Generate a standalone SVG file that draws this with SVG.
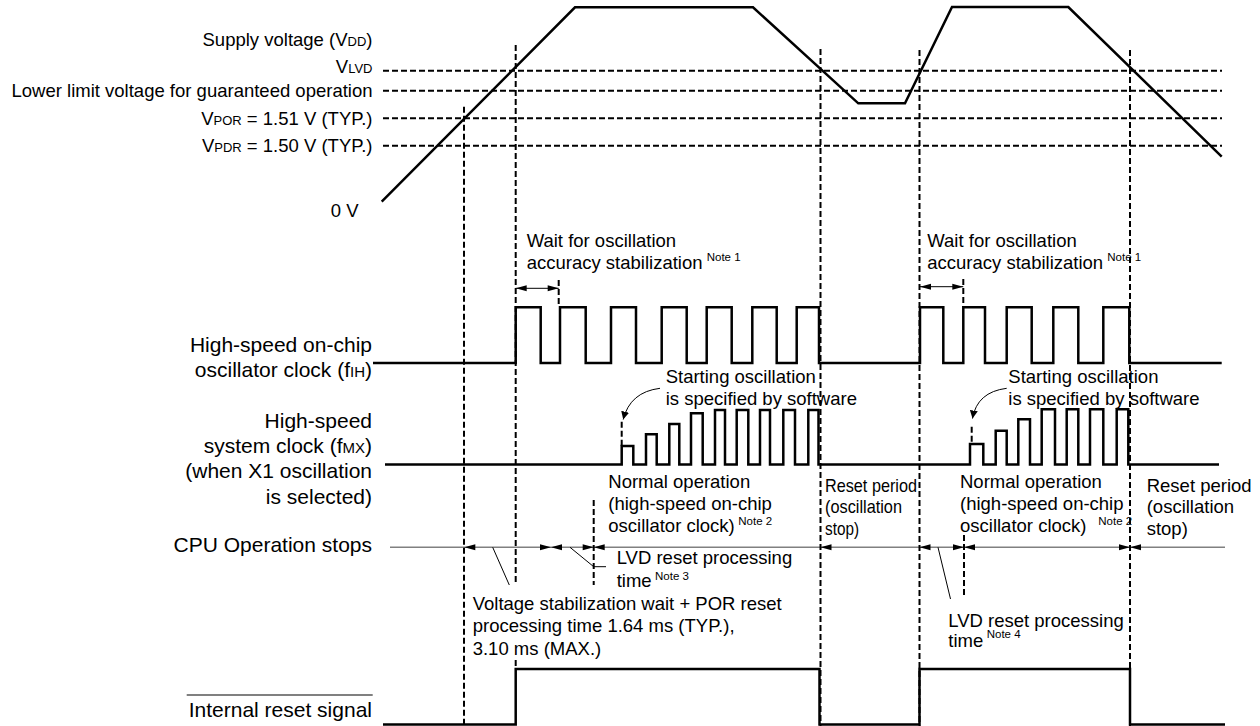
<svg xmlns="http://www.w3.org/2000/svg" xmlns:xlink="http://www.w3.org/1999/xlink" width="1260" height="726" viewBox="0 0 1260 726">
<style>
text{font-family:"Liberation Sans",Arial,sans-serif;fill:#000}
.v{font-size:18.5px}
.s{font-size:21px}
.n{font-size:11.5px}
.sub{font-size:13px}
.ssub{font-size:15px}
.end{text-anchor:end}
.wave{fill:none;stroke:#000;stroke-width:2.5;stroke-linejoin:miter}
.dash{fill:none;stroke:#000;stroke-width:2;stroke-dasharray:6 3}
.thin{fill:none;stroke:#000;stroke-width:1}
.gray{fill:none;stroke:#808080;stroke-width:1.5}
</style>
<defs>
<path id="ahL" d="M0,0 L11,-3 L11,3 Z" fill="#000"/>
<path id="ahR" d="M0,0 L-11,-3 L-11,3 Z" fill="#000"/>
<marker id="curveHead" markerWidth="10" markerHeight="8" refX="8" refY="4" orient="auto" markerUnits="userSpaceOnUse">
<path d="M0,0 L8,4 L0,8 Z" fill="#000"/>
</marker>
</defs>
<rect width="1260" height="726" fill="#fff"/>

<g id="voltage-labels">
<text class="v end" x="372.5" y="46">Supply voltage (V<tspan class="sub">DD</tspan>)</text>
<text class="v end" x="372.5" y="73">V<tspan class="sub">LVD</tspan></text>
<text class="v end" x="372.5" y="97">Lower limit voltage for guaranteed operation</text>
<text class="v end" x="372.5" y="124.5">V<tspan class="sub">POR</tspan> = 1.51 V (TYP.)</text>
<text class="v end" x="372.5" y="151.7">V<tspan class="sub">PDR</tspan> = 1.50 V (TYP.)</text>
<text class="v end" x="358.5" y="216.7">0 V</text>
</g>

<g id="signal-labels">
<text class="s end" x="372" y="351.7">High-speed on-chip</text>
<text class="s end" x="372" y="376.7">oscillator clock (f<tspan class="ssub">IH</tspan>)</text>
<text class="s end" x="372" y="428.3">High-speed</text>
<text class="s end" x="372" y="453.3">system clock (f<tspan class="ssub">MX</tspan>)</text>
<text class="s end" x="372" y="478.3">(when X1 oscillation</text>
<text class="s end" x="372" y="504.3">is selected)</text>
<text class="s end" x="372" y="551.7">CPU Operation stops</text>
<text class="s end" x="372" y="716.7">Internal reset signal</text>
<line x1="186.7" y1="695" x2="372.7" y2="695" stroke="#808080" stroke-width="2"/>
</g>

<g id="level-lines">
<line class="dash" x1="383" y1="70.7" x2="1222" y2="70.7"/>
<line class="dash" x1="383" y1="90.7" x2="1222" y2="90.7"/>
<line class="dash" x1="383" y1="118.3" x2="1222" y2="118.3"/>
<line class="dash" x1="383" y1="145.7" x2="1222" y2="145.7"/>
</g>

<g id="vdd">
<path class="wave" d="M381.7,201.7 L575,7.3 H753 L858.3,103.3 H905 L952,7 H1068.3 L1221.7,156.7"/>
</g>

<g id="fih">
<path class="wave" d="M373,363 H515.7 V307.3 H540.7 V363 H560 V307.3 H585.7 V363 H611 V307.3 H636 V363 H661.7 V307.3 H686.7 V363 H706.7 V307.3 H731.7 V363 H752.3 V307.3 H776.7 V363 H796.7 V307.3 H819 V363 H920 V307.3 H943.3 V363 H963.3 V307.3 H985 V363 H1006.7 V307.3 H1031.7 V363 H1053.3 V307.3 H1078.3 V363 H1103.3 V307.3 H1129.3 V363 H1221.7"/>
</g>

<g id="fmx">
<path class="wave" d="M385,464.5 H621.7 V446 H633.3 V464.5 H646 V434.3 H656.7 V464.5 H669.3 V424 H679.3 V464.5 H691 V413.3 H702.7 V464.5 H715 V410 H725 V464.5 H736.7 V410 H748.3 V464.5 H760 V410 H770 V464.5 H783.3 V410 H795 V464.5 H808.3 V410 H818.5 V464.5 H970 V444 H983.3 V464.5 H995.7 V430.7 H1006.7 V464.5 H1018.3 V419.3 H1030 V464.5 H1041.7 V409.3 H1055 V464.5 H1066.7 V409.3 H1078.3 V464.5 H1090 V409.3 H1103.3 V464.5 H1116.7 V409.3 H1128.3 V464.5 H1219"/>
</g>

<g id="reset">
<path class="wave" d="M383,724.5 H515.7 V669 H819.5 V724.5 H919.5 V669 H1130 V724.5 H1225"/>
</g>

<g id="cpu">
<line class="gray" x1="390" y1="547.3" x2="1225" y2="547.3"/>
</g>

<g id="annotations-text">
<text class="v" x="526.7" y="246.7">Wait for oscillation</text>
<text class="v" x="526.7" y="269.3">accuracy stabilization</text>
<text class="n" x="706.7" y="261">Note 1</text>
<text class="v" x="927.3" y="246.7">Wait for oscillation</text>
<text class="v" x="927.3" y="269.3">accuracy stabilization</text>
<text class="n" x="1107.3" y="261">Note 1</text>

<text class="v" x="665.7" y="383.3">Starting oscillation</text>
<text class="v" x="665.7" y="405">is specified by software</text>
<text class="v" x="1008.3" y="383.3">Starting oscillation</text>
<text class="v" x="1008.3" y="405">is specified by software</text>

<text class="v" x="608.3" y="488.3">Normal operation</text>
<text class="v" x="608.3" y="510">(high-speed on-chip</text>
<text class="v" x="608.3" y="531.7">oscillator clock)</text>
<text class="n" x="738.3" y="525">Note 2</text>
<text class="v" x="960" y="488.3">Normal operation</text>
<text class="v" x="960" y="510">(high-speed on-chip</text>
<text class="v" x="960" y="531.7">oscillator clock)</text>
<text class="n" x="1098.3" y="525">Note 2</text>

<text class="v" x="825" y="491.7" textLength="92" lengthAdjust="spacingAndGlyphs">Reset period</text>
<text class="v" x="825" y="513.3" textLength="77" lengthAdjust="spacingAndGlyphs">(oscillation</text>
<text class="v" x="825" y="535" textLength="34" lengthAdjust="spacingAndGlyphs">stop)</text>
<text class="v" x="1146.7" y="491.7">Reset period</text>
<text class="v" x="1146.7" y="513.3">(oscillation</text>
<text class="v" x="1146.7" y="535">stop)</text>

<text class="v" x="616.7" y="564.3">LVD reset processing</text>
<text class="v" x="616.7" y="586.7">time</text>
<text class="n" x="655" y="580">Note 3</text>
<text class="v" x="948.3" y="626.7">LVD reset processing</text>
<text class="v" x="948.3" y="646.7">time</text>
<text class="n" x="986.7" y="638.3">Note 4</text>

<text class="v" x="472.7" y="610">Voltage stabilization wait + POR reset</text>
<text class="v" x="472.7" y="632.3">processing time 1.64 ms (TYP.),</text>
<text class="v" x="472.7" y="655">3.10 ms (MAX.)</text>
</g>

<g id="timing-markers">
<line class="dash" x1="464" y1="106.7" x2="464" y2="726"/>
<line class="dash" x1="515.7" y1="45" x2="515.7" y2="585"/>
<line class="dash" x1="515.7" y1="660" x2="515.7" y2="669"/>
<line class="dash" x1="820.5" y1="49" x2="820.5" y2="726"/>
<line class="dash" x1="919.5" y1="50" x2="919.5" y2="726"/>
<line class="dash" x1="1130" y1="50" x2="1130" y2="726"/>
<line class="dash" x1="558.7" y1="280" x2="558.7" y2="307"/>
<line class="dash" x1="963.3" y1="279" x2="963.3" y2="307"/>
<line class="dash" x1="621.7" y1="421.7" x2="621.7" y2="446"/>
<line class="dash" x1="971.7" y1="426.7" x2="971.7" y2="444"/>
<line class="dash" x1="593.7" y1="500" x2="593.7" y2="585"/>
<line class="dash" x1="964" y1="535" x2="964" y2="597"/>
</g>

<g id="connectors">
<line class="thin" x1="515.7" y1="288.3" x2="558.7" y2="288.3"/>
<use xlink:href="#ahL" x="515.7" y="288.3"/>
<use xlink:href="#ahR" x="558.7" y="288.3"/>
<line class="thin" x1="920" y1="286.7" x2="963.3" y2="286.7"/>
<use xlink:href="#ahL" x="920" y="286.7"/>
<use xlink:href="#ahR" x="963.3" y="286.7"/>

<path class="thin" d="M660,388.3 Q630,392 623.2,419.5" marker-end="url(#curveHead)"/>
<path class="thin" d="M1006.7,388.3 Q977,392 972.5,418.5" marker-end="url(#curveHead)"/>

<use xlink:href="#ahL" x="464.3" y="547.3"/>
<use xlink:href="#ahR" x="551" y="547.3"/>
<use xlink:href="#ahL" x="551" y="547.3"/>
<use xlink:href="#ahR" x="593.7" y="547.3"/>
<use xlink:href="#ahL" x="593.7" y="547.3"/>
<use xlink:href="#ahL" x="820.5" y="547.3"/>
<use xlink:href="#ahL" x="919.5" y="547.3"/>
<use xlink:href="#ahR" x="964" y="547.3"/>
<use xlink:href="#ahL" x="964" y="547.3"/>
<use xlink:href="#ahR" x="1130" y="547.3"/>
<use xlink:href="#ahL" x="1130" y="547.3"/>

<line class="thin" x1="492.7" y1="547.3" x2="509.3" y2="585"/>
<path class="thin" d="M570,547.3 L593.7,566.7 H606"/>
<line class="thin" x1="938" y1="547.3" x2="950.5" y2="599"/>
</g>
</svg>
